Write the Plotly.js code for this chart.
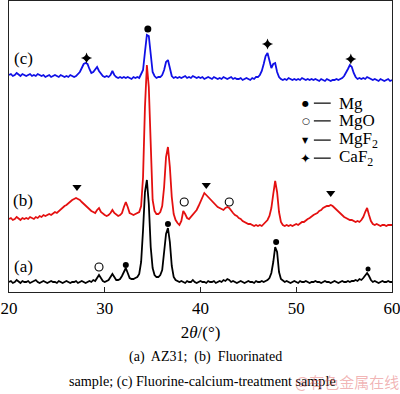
<!DOCTYPE html>
<html><head><meta charset="utf-8">
<script src="https://cdn.plot.ly/plotly-3.0.1.min.js"></script>
<style>html,body{margin:0;padding:0;background:#fff;}#chart{width:400px;height:394px;}</style>
</head><body><div id="chart"></div>
<script>
// 2theta grid: start 20, step 0.2 (201 points to 60)
const thetaStart = 20, thetaStep = 0.2;

// (a) AZ31 — stacked intensity (a.u.)
const seriesA = [
 10,11,9,10,12,10,9,11,10,10,
 11,9,10,11,12,10,9,10,11,10,
 9,10,11,10,10,9,11,10,9,10,
 11,10,9,10,10,11,9,10,11,10,
 9,10,11,10,12,11,14,17,14,11,
 10,11,12,15,18,15,12,12,13,16,
 21,24,19,14,13,13,14,15,18,30,
 62,100,112,88,45,24,17,15,15,17,
 22,38,58,64,50,26,15,12,11,10,
 11,10,9,11,10,10,12,10,9,10,
 11,10,10,9,11,10,10,11,9,10,
 11,10,12,11,13,12,10,11,10,9,
 10,11,10,9,10,11,10,10,9,11,
 10,10,11,10,11,12,14,19,30,45,
 40,20,13,11,10,11,10,9,10,11,
 10,9,11,10,10,11,10,9,10,10,
 11,10,10,9,10,11,10,10,9,10,
 11,10,9,10,11,10,10,11,10,11,
 11,12,11,13,12,14,16,19,16,12,
 10,11,10,9,10,11,10,10,11,10,
 10
];

// (b) Fluorinated sample
const seriesB = [
 73,74,72,73,75,73,72,74,73,74,
 73,75,74,73,75,74,76,75,77,76,
 77,78,77,79,80,79,81,83,84,86,
 87,89,90,92,93,94,93,92,90,88,
 86,85,83,81,80,79,82,84,80,78,
 77,76,77,79,82,79,77,76,77,79,
 85,90,85,79,78,77,78,79,80,86,
 115,185,227,205,135,92,81,78,78,80,
 86,105,135,145,125,95,78,72,69,67,
 71,81,78,74,73,75,77,79,82,86,
 91,95,99,97,95,92,90,88,87,85,
 84,83,82,84,85,84,81,79,77,76,
 74,73,71,70,69,68,68,67,66,67,
 66,67,66,68,70,72,76,84,98,111,
 100,80,70,67,66,67,66,67,66,67,
 68,67,69,70,70,72,73,74,76,77,
 78,79,81,82,84,85,86,86,87,86,
 84,82,80,78,77,75,74,73,72,72,
 71,70,71,70,72,75,80,84,77,71,
 68,67,68,67,66,67,67,66,67,67,
 67
];

// (c) Fluorine-calcium-treatment sample
const seriesC = [
 217,218,216,217,219,217,216,218,217,216,
 217,218,216,217,216,218,217,216,217,215,
 216,217,215,216,217,216,215,217,216,215,
 216,215,217,216,215,216,218,220,224,228,
 229,228,223,219,220,223,225,221,218,216,
 215,216,215,217,221,217,215,214,215,214,
 215,214,215,214,213,215,214,215,214,218,
 222,240,257,256,236,220,216,214,215,215,
 217,222,230,232,224,216,214,215,214,215,
 214,215,216,214,215,214,216,215,214,215,
 214,215,213,214,215,214,213,215,214,213,
 214,213,215,214,213,214,215,213,214,213,
 213,214,212,213,214,213,212,214,213,215,
 215,217,221,228,236,239,232,224,228,229,
 220,215,213,212,213,212,214,213,212,213,
 212,213,212,214,213,212,213,212,213,212,
 213,212,211,213,212,211,213,212,211,212,
 212,213,212,213,214,216,219,223,227,225,
 219,215,213,214,213,214,213,215,214,213,
 212,213,212,211,213,212,211,212,213,211,
 212
];

// phase markers (2theta, stacked height)
const mgX = [34.5, 32.2, 36.6, 47.9, 57.5];
const mgY = [263, 27, 68, 50, 23];
const mgoX = [29.4, 38.3, 43.0];
const mgoY = [25, 90, 90];
const mgf2X = [27.1, 40.6, 53.6];
const mgf2Y = [105, 107, 99];
const caf2X = [28.1, 47.0, 55.7];
const caf2Y = [234, 248, 233];

const sampleLabels = ['(a)', '(b)', '(c)'];
const sampleLabelY = [26, 92, 234];
const legendSymbols = ['●', '○', '▼', '✦'];
const legendNames = ['Mg', 'MgO', 'MgF<sub>2</sub>', 'CaF<sub>2</sub>'];
const xTicks = [20, 30, 40, 50, 60];

const serif = 'Liberation Serif, Times New Roman, serif';

function curve(y, color) {
  return {type: 'scatter', mode: 'lines', x0: thetaStart, dx: thetaStep, y: y,
    line: {color: color, width: 1.8}, hoverinfo: 'skip', cliponaxis: true};
}
function marks(x, y, symbol, size) {
  return {type: 'scatter', mode: 'markers', x: x, y: y, cliponaxis: false, hoverinfo: 'skip',
    marker: {symbol: symbol, color: '#000', size: size, opacity: 1, line: {width: 0, color: '#000'}}};
}

const traces = [
  curve(seriesB, '#e41010'),
  curve(seriesA, '#000000'),
  curve(seriesC, '#1010e6'),
  marks(mgX, mgY, 'circle', [7, 6, 6, 6, 5]),
  marks(mgoX, mgoY, 'circle-open', 8),
  marks(mgf2X, mgf2Y, 'triangle-down', 8),
  marks(caf2X, caf2Y, 'star-diamond', 8)
];
traces[4].marker.line = {width: 1.1, color: '#000'};

const annotations = [];
sampleLabels.forEach((t, i) => annotations.push({
  text: t, x: 21.5, y: sampleLabelY[i], xref: 'x', yref: 'y', showarrow: false,
  font: {family: serif, size: 17, color: '#000'}, xanchor: 'center', yanchor: 'middle'}));

const legRowY = [0.649, 0.588, 0.522, 0.460];
const legSymSize = [8, 9, 8, 13];
const shapes = [];
legendNames.forEach((n, i) => {
  annotations.push({text: legendSymbols[i], x: 0.775, y: legRowY[i], xref: 'paper', yref: 'paper',
    showarrow: false, xanchor: 'center', yanchor: 'middle',
    font: {family: 'DejaVu Sans', size: legSymSize[i], color: '#000'}});
  shapes.push({type: 'line', xref: 'paper', yref: 'paper', x0: 0.796, x1: 0.840,
    y0: legRowY[i], y1: legRowY[i], line: {color: '#000', width: 1.2}});
  annotations.push({text: n, x: 0.857, y: legRowY[i], xref: 'paper', yref: 'paper',
    showarrow: false, xanchor: 'left', yanchor: 'middle',
    font: {family: serif, size: 17, color: '#000'}});
});

annotations.push({text: '(a)  AZ31;  (b)  Fluorinated', x: 0.512, y: -0.223, xref: 'paper', yref: 'paper',
  showarrow: false, xanchor: 'center', yanchor: 'middle', font: {family: serif, size: 14, color: '#000'}});
annotations.push({text: 'sample; (c) Fluorine-calcium-treatment sample', x: 0.504, y: -0.309, xref: 'paper', yref: 'paper',
  showarrow: false, xanchor: 'center', yanchor: 'middle', font: {family: serif, size: 14.2, color: '#000'}});
annotations.push({text: '@有色金属在线', x: 0.741, y: -0.309, xref: 'paper', yref: 'paper',
  showarrow: false, xanchor: 'left', yanchor: 'middle',
  font: {family: 'Noto Sans CJK SC', size: 15, color: 'rgba(225,90,90,0.45)'}});

const layout = {
  width: 400, height: 394,
  margin: {l: 9, r: 8, t: 1, b: 102, pad: 0},
  paper_bgcolor: '#fff', plot_bgcolor: '#fff',
  showlegend: false,
  xaxis: {range: [20, 60], tickvals: xTicks, ticks: 'inside', ticklen: 5, tickcolor: '#222',
    ticklabeloverflow: 'allow',
    showline: true, mirror: true, linecolor: '#222', linewidth: 1.2, showgrid: false, zeroline: false,
    tickfont: {family: serif, size: 17, color: '#000'},
    title: {text: '2<i>θ</i>/(°)', font: {family: serif, size: 17, color: '#000'}, standoff: 9}},
  yaxis: {range: [0, 291], showticklabels: false, ticks: '', showline: true, mirror: true,
    linecolor: '#222', linewidth: 1.2, showgrid: false, zeroline: false},
  annotations: annotations,
  shapes: shapes
};

Plotly.newPlot('chart', traces, layout, {staticPlot: true, displayModeBar: false});
</script>
</body></html>
